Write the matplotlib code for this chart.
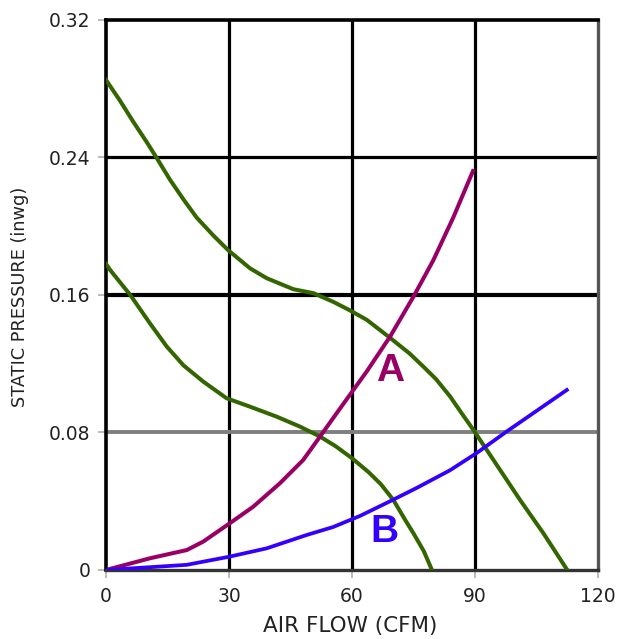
import matplotlib
matplotlib.use("Agg")
import matplotlib.pyplot as plt

# Fan curves (static pressure vs air flow)
fan_hi_x = [0, 3.4, 6.7, 9.9, 12.4, 15.6, 18.9, 22.1, 26.2, 29.8, 35.1, 39.2, 45.7,
            50.6, 55.4, 59.5, 63.6, 69.3, 74, 77.4, 80.5, 83.9, 86.5, 89.6, 94.5, 101,
            106.7, 112.5]
fan_hi_y = [0.285, 0.273, 0.2605, 0.249, 0.2395, 0.227, 0.2155, 0.205, 0.1945, 0.186,
            0.1755, 0.1697, 0.1633, 0.161, 0.156, 0.151, 0.1455, 0.135, 0.126, 0.1183,
            0.111, 0.101, 0.092, 0.0815, 0.064, 0.0407, 0.0213, 0.0]

fan_lo_x = [0, 1, 5.9, 10.7, 14.8, 18.9, 23.7, 29.4, 35.1, 41.6, 47.3, 52.2, 56, 60,
            64, 67, 70.1, 73, 75, 77.5, 79.5]
fan_lo_y = [0.178, 0.1745, 0.160, 0.1435, 0.130, 0.119, 0.1096, 0.0999, 0.095, 0.0892,
            0.0834, 0.0776, 0.072, 0.065, 0.057, 0.050, 0.0407, 0.029, 0.0213, 0.011, 0.0]

# System impedance curves
sys_a_x = [0, 10.7, 19.7, 23.7, 30.2, 35.9, 42.4, 48.1, 52.2, 57.1, 63.6, 69.3, 75,
           79.8, 84.7, 89.5]
sys_a_y = [0.0, 0.0068, 0.0116, 0.0165, 0.0272, 0.0368, 0.0504, 0.064, 0.0776, 0.094,
           0.1155, 0.1358, 0.159, 0.180, 0.205, 0.232]

sys_b_x = [0, 19.7, 30.2, 39.2, 49, 55.4, 62, 69.3, 76, 83.9, 90.4, 97.7, 105.9, 112.4]
sys_b_y = [0.0, 0.003, 0.0078, 0.0126, 0.0204, 0.025, 0.0315, 0.040, 0.048, 0.058,
           0.068, 0.0805, 0.094, 0.1047]

x_ticks = [0, 30, 60, 90, 120]
y_ticks = [0, 0.08, 0.16, 0.24, 0.32]
y_tick_labels = ["0", "0.08", "0.16", "0.24", "0.32"]

GREEN = "#336600"
MAGENTA = "#990066"
BLUE = "#3300ff"

fig = plt.figure(figsize=(6.2, 6.39), dpi=100)
ax = fig.add_axes([0.171, 0.108, 0.7935, 0.861])

# grid lines
for xv in x_ticks[1:-1]:
    ax.axvline(xv, color="black", lw=2.3, zorder=1)
ax.axhline(0.24, color="black", lw=2.3, zorder=1)
ax.axhline(0.16, color="black", lw=3.0, zorder=1)
ax.axhline(0.08, color="#7f7f7f", lw=2.8, zorder=1)

ax.plot(fan_hi_x, fan_hi_y, color=GREEN, lw=2.9, zorder=3)
ax.plot(fan_lo_x, fan_lo_y, color=GREEN, lw=2.9, zorder=3)
ax.plot(sys_a_x, sys_a_y, color=MAGENTA, lw=2.9, zorder=3)
ax.plot(sys_b_x, sys_b_y, color=BLUE, lw=2.7, zorder=3)

ax.text(69.3, 0.116, "A", color=MAGENTA, fontsize=28, fontweight="bold",
        family="Liberation Sans", ha="center", va="center")
ax.text(68, 0.0223, "B", color=BLUE, fontsize=28, fontweight="bold",
        family="Liberation Sans", ha="center", va="center")

ax.set_xlim(0, 120)
ax.set_ylim(0, 0.32)
ax.set_xticks(x_ticks)
ax.set_yticks(y_ticks)
ax.set_yticklabels(y_tick_labels)
ax.tick_params(axis="both", colors="#bbbbbb", length=5.5, width=1.4,
               labelcolor="#222222", labelsize=13.5)
ax.tick_params(axis="x", pad=7)
ax.tick_params(axis="y", pad=5.5)

for side in ["left", "top"]:
    ax.spines[side].set_color("black")
    ax.spines[side].set_linewidth(2.6)
ax.spines["bottom"].set_color("#333333")
ax.spines["bottom"].set_linewidth(2.4)
ax.spines["right"].set_color("#555555")
ax.spines["right"].set_linewidth(2.4)

ax.set_xlabel("AIR FLOW (CFM)", fontsize=15.5, color="#222222")
ax.set_ylabel("STATIC PRESSURE (inwg)", fontsize=12.8, color="#222222")
ax.xaxis.set_label_coords(0.496, -0.084)
ax.yaxis.set_label_coords(-0.1565, 0.496)

fig.savefig("out.png", dpi=100)
